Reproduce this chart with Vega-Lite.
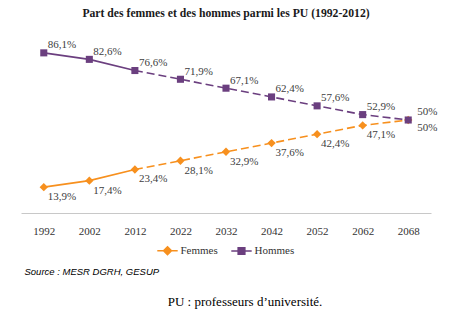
{
  "$schema": "https://vega.github.io/schema/vega-lite/v6.json",
  "autosize": {"type": "none"},
  "padding": {"left": 21, "top": 27, "right": 23, "bottom": 111},
  "width": 410,
  "height": 186,
  "config": {"view": {"stroke": null}},
  "title": {
    "text": "Part des femmes et des hommes parmi les PU (1992-2012)",
    "font": "Liberation Serif",
    "fontSize": 11.7,
    "fontWeight": "bold",
    "color": "#1a1a1a",
    "anchor": "middle",
    "offset": 7
  },
  "data": {
    "values": [
      {"annee": 1992, "sexe": "Femmes", "valeur": 13.9, "label": "13,9%"},
      {"annee": 2002, "sexe": "Femmes", "valeur": 17.4, "label": "17,4%"},
      {"annee": 2012, "sexe": "Femmes", "valeur": 23.4, "label": "23,4%"},
      {"annee": 2022, "sexe": "Femmes", "valeur": 28.1, "label": "28,1%"},
      {"annee": 2032, "sexe": "Femmes", "valeur": 32.9, "label": "32,9%"},
      {"annee": 2042, "sexe": "Femmes", "valeur": 37.6, "label": "37,6%"},
      {"annee": 2052, "sexe": "Femmes", "valeur": 42.4, "label": "42,4%"},
      {"annee": 2062, "sexe": "Femmes", "valeur": 47.1, "label": "47,1%"},
      {"annee": 2068, "sexe": "Femmes", "valeur": 50, "label": "50%"},
      {"annee": 1992, "sexe": "Hommes", "valeur": 86.1, "label": "86,1%"},
      {"annee": 2002, "sexe": "Hommes", "valeur": 82.6, "label": "82,6%"},
      {"annee": 2012, "sexe": "Hommes", "valeur": 76.6, "label": "76,6%"},
      {"annee": 2022, "sexe": "Hommes", "valeur": 71.9, "label": "71,9%"},
      {"annee": 2032, "sexe": "Hommes", "valeur": 67.1, "label": "67,1%"},
      {"annee": 2042, "sexe": "Hommes", "valeur": 62.4, "label": "62,4%"},
      {"annee": 2052, "sexe": "Hommes", "valeur": 57.6, "label": "57,6%"},
      {"annee": 2062, "sexe": "Hommes", "valeur": 52.9, "label": "52,9%"},
      {"annee": 2068, "sexe": "Hommes", "valeur": 50, "label": "50%"}
    ]
  },
  "encoding": {
    "x": {
      "field": "annee",
      "type": "ordinal",
      "scale": {"type": "point", "padding": 0.5},
      "axis": {
        "labelAngle": 0,
        "labelFont": "Liberation Serif",
        "labelFontSize": 11,
        "labelColor": "#333333",
        "labelPadding": 12,
        "ticks": false,
        "domainColor": "#c8c8c8",
        "domainWidth": 1,
        "grid": false,
        "title": "Source : MESR DGRH, GESUP",
        "titleFont": "Liberation Sans",
        "titleFontSize": 9.5,
        "titleFontStyle": "italic",
        "titleFontWeight": "normal",
        "titleColor": "#000000",
        "titleAnchor": "start",
        "titleAlign": "left",
        "titleBaseline": "middle",
        "titleX": 3,
        "titleY": 58
      }
    },
    "y": {
      "field": "valeur",
      "type": "quantitative",
      "scale": {"domain": [0, 100]},
      "axis": {
        "labels": false,
        "ticks": false,
        "domain": false,
        "grid": false,
        "title": "PU : professeurs d’université.",
        "titleFont": "Liberation Serif",
        "titleFontSize": 13,
        "titleFontWeight": "normal",
        "titleColor": "#000000",
        "titleAngle": 0,
        "titleAlign": "center",
        "titleBaseline": "middle",
        "titleX": 223.5,
        "titleY": 274
      }
    },
    "color": {
      "field": "sexe",
      "type": "nominal",
      "scale": {"domain": ["Femmes", "Hommes"], "range": ["#f7901e", "#6b3f7f"]},
      "legend": {
        "title": null,
        "orient": "none",
        "direction": "horizontal",
        "legendX": 141,
        "legendY": 218,
        "padding": 0,
        "symbolSize": 36,
        "labelOffset": 7.5,
        "columnPadding": 10,
        "labelFont": "Liberation Serif",
        "labelFontSize": 11,
        "labelColor": "#333333",
        "encode": {
          "symbols": {
            "update": {
              "shape": {"signal": "datum.value === 'Femmes' ? 'M-3.4,0H3.4M0,-1.3L1.3,0L0,1.3L-1.3,0Z' : 'M-3.4,0H3.4M-1.1,-1.1H1.1V1.1H-1.1Z'"},
              "stroke": {"signal": "datum.value === 'Femmes' ? '#f7901e' : '#6b3f7f'"},
              "fill": {"signal": "datum.value === 'Femmes' ? '#f7901e' : '#6b3f7f'"},
              "strokeWidth": {"value": 1.6},
              "opacity": {"value": 1}
            }
          }
        }
      }
    }
  },
  "layer": [
    {
      "transform": [{"filter": "datum.annee <= 2012"}],
      "mark": {"type": "line", "strokeWidth": 1.6},
      "encoding": {"detail": {"field": "sexe"}}
    },
    {
      "transform": [{"filter": "datum.annee >= 2012"}],
      "mark": {"type": "line", "strokeWidth": 1.6, "strokeDash": [8, 4]},
      "encoding": {"detail": {"field": "sexe"}}
    },
    {
      "transform": [{"filter": "datum.sexe === 'Femmes'"}],
      "mark": {"type": "point", "filled": true, "opacity": 1, "shape": "diamond", "size": 70}
    },
    {
      "transform": [{"filter": "datum.sexe === 'Hommes'"}],
      "mark": {"type": "point", "filled": true, "opacity": 1, "shape": "square", "size": 50}
    },
    {
      "transform": [{"filter": "datum.sexe === 'Hommes' && datum.annee < 2068"}],
      "mark": {"type": "text", "align": "left", "baseline": "middle", "dx": 4, "dy": -7.5, "font": "Liberation Serif", "fontSize": 11},
      "encoding": {"text": {"field": "label"}, "color": {"value": "#404040"}}
    },
    {
      "transform": [{"filter": "datum.sexe === 'Femmes' && datum.annee < 2068"}],
      "mark": {"type": "text", "align": "left", "baseline": "middle", "dx": 4, "dy": 10, "font": "Liberation Serif", "fontSize": 11},
      "encoding": {"text": {"field": "label"}, "color": {"value": "#404040"}}
    },
    {
      "transform": [{"filter": "datum.sexe === 'Hommes' && datum.annee == 2068"}],
      "mark": {"type": "text", "align": "left", "baseline": "middle", "dx": 9, "dy": -8, "font": "Liberation Serif", "fontSize": 11},
      "encoding": {"text": {"field": "label"}, "color": {"value": "#404040"}}
    },
    {
      "transform": [{"filter": "datum.sexe === 'Femmes' && datum.annee == 2068"}],
      "mark": {"type": "text", "align": "left", "baseline": "middle", "dx": 9, "dy": 8, "font": "Liberation Serif", "fontSize": 11},
      "encoding": {"text": {"field": "label"}, "color": {"value": "#404040"}}
    }
  ]
}
